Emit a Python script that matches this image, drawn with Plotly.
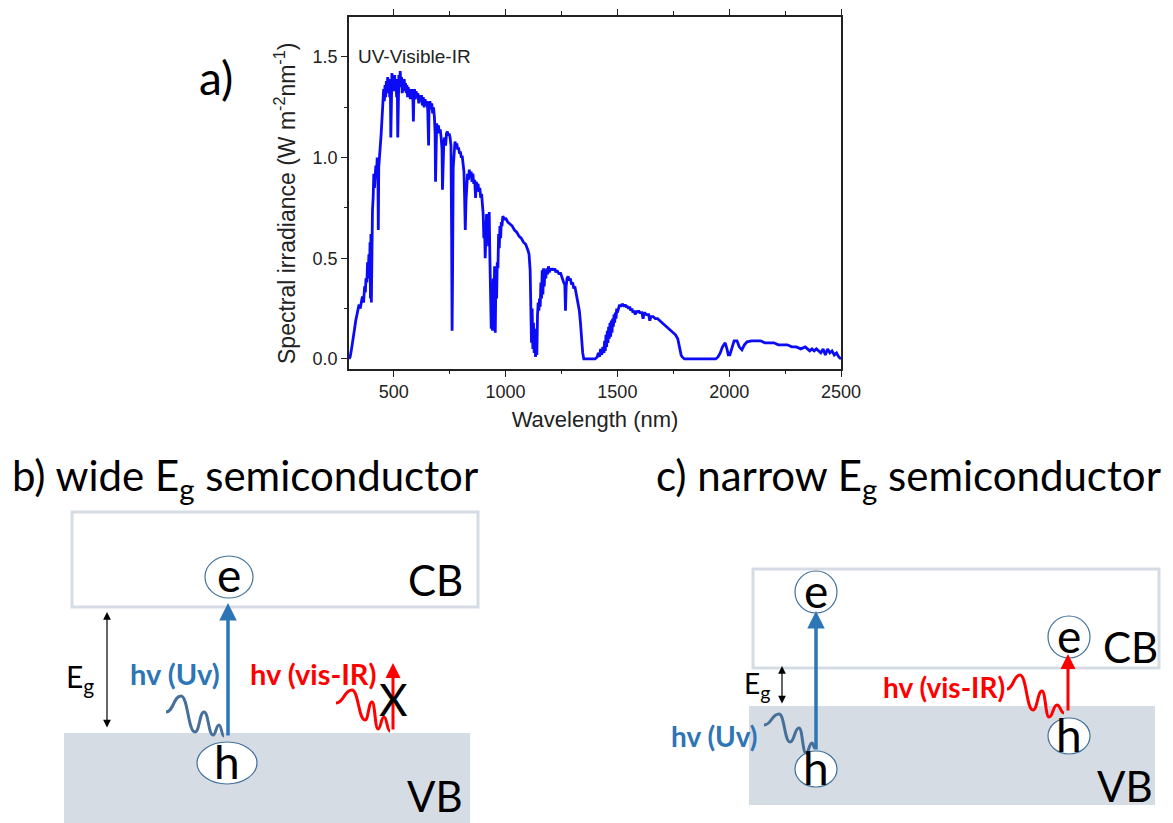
import plotly.graph_objects as go

W, H = 1173, 823

# ---------------- data ----------------
wavelength_nm = [
    300, 305, 310, 315, 320, 325, 330, 335, 340, 345, 350, 355, 360, 365, 370, 373, 376, 380, 383, 386,
    389, 392, 394, 396, 398, 400, 402, 405, 408, 411, 414, 417, 420, 423, 426, 429, 431, 433, 436, 440,
    444, 448, 452, 455, 458, 461, 464, 467, 470, 473, 476, 479, 482, 485, 487, 489, 492, 495, 498, 501,
    504, 507, 510, 513, 516, 518, 520, 523, 526, 529, 532, 535, 538, 541, 544, 547, 550, 553, 556, 559,
    562, 565, 568, 571, 574, 577, 580, 583, 586, 588, 590, 593, 596, 600, 604, 608, 612, 616, 620, 624,
    628, 632, 636, 640, 644, 648, 652, 656, 658, 662, 666, 670, 674, 678, 682, 685, 687, 689, 692, 696,
    700, 704, 708, 712, 716, 718, 720, 724, 728, 732, 736, 740, 744, 748, 752, 756, 759, 761, 763, 766,
    770, 774, 778, 782, 786, 790, 794, 798, 802, 806, 810, 814, 817, 820, 823, 826, 830, 834, 838, 842,
    846, 850, 854, 858, 862, 866, 869, 873, 877, 881, 885, 889, 893, 897, 900, 903, 906, 909, 912, 915,
    918, 921, 924, 927, 930, 933, 936, 939, 942, 945, 948, 951, 954, 957, 960, 963, 966, 969, 972, 975,
    978, 981, 984, 988, 992, 996, 1000, 1010, 1020, 1030, 1040, 1050, 1060, 1070, 1080, 1090, 1100, 1105, 1110, 1113,
    1116, 1119, 1122, 1125, 1128, 1131, 1134, 1137, 1140, 1143, 1146, 1149, 1152, 1155, 1158, 1161, 1164, 1167, 1170, 1173,
    1176, 1180, 1184, 1188, 1192, 1196, 1200, 1205, 1210, 1215, 1220, 1225, 1230, 1235, 1240, 1245, 1250, 1255, 1260, 1265,
    1268, 1271, 1275, 1280, 1285, 1290, 1295, 1300, 1305, 1310, 1315, 1320, 1325, 1330, 1335, 1340, 1345, 1350, 1360, 1380,
    1400, 1410, 1415, 1420, 1425, 1430, 1435, 1440, 1443, 1446, 1449, 1452, 1455, 1458, 1461, 1464, 1467, 1470, 1473, 1476,
    1479, 1482, 1485, 1488, 1491, 1494, 1497, 1500, 1505, 1510, 1515, 1520, 1525, 1530, 1535, 1540, 1545, 1550, 1555, 1560,
    1565, 1570, 1575, 1580, 1585, 1590, 1595, 1600, 1610, 1615, 1620, 1630, 1640, 1645, 1650, 1660, 1670, 1680, 1690, 1700,
    1710, 1720, 1730, 1740, 1750, 1760, 1770, 1775, 1780, 1785, 1790, 1800, 1850, 1900, 1940, 1950, 1960, 1970, 1982, 1990,
    1996, 2003, 2012, 2022, 2035, 2045, 2057, 2068, 2080, 2100, 2120, 2140, 2160, 2180, 2200, 2220, 2240, 2260, 2280, 2300,
    2320, 2340, 2350, 2360, 2370, 2380, 2390, 2400, 2410, 2420, 2430, 2440, 2450, 2460, 2470, 2480, 2490, 2500,
]
irradiance = [
    0.00, 0.01, 0.04, 0.07, 0.11, 0.15, 0.19, 0.22, 0.24, 0.27, 0.25, 0.29, 0.31, 0.28, 0.36, 0.33, 0.40, 0.38, 0.48, 0.42,
    0.52, 0.40, 0.58, 0.30, 0.62, 0.28, 0.55, 0.74, 0.80, 0.92, 0.85, 0.93, 0.96, 0.90, 1.00, 0.97, 0.64, 0.95, 1.02, 1.06,
    1.12, 1.20, 1.30, 1.34, 1.28, 1.36, 1.30, 1.38, 1.32, 1.40, 1.34, 1.39, 1.30, 1.36, 1.10, 1.34, 1.42, 1.36, 1.40, 1.33,
    1.41, 1.35, 1.39, 1.30, 1.37, 1.10, 1.36, 1.41, 1.35, 1.43, 1.36, 1.40, 1.32, 1.38, 1.34, 1.39, 1.33, 1.37, 1.32, 1.36,
    1.30, 1.35, 1.31, 1.34, 1.29, 1.33, 1.30, 1.34, 1.28, 1.18, 1.30, 1.34, 1.29, 1.33, 1.30, 1.32, 1.27, 1.31, 1.28, 1.31,
    1.26, 1.30, 1.25, 1.29, 1.26, 1.28, 1.24, 1.06, 1.26, 1.28, 1.24, 1.27, 1.22, 1.25, 1.20, 1.12, 0.88, 1.05, 1.17, 1.13,
    1.16, 1.12, 1.14, 1.10, 1.04, 0.84, 1.00, 1.08, 1.10, 1.06, 1.12, 1.13, 1.11, 1.12, 1.10, 1.06, 0.60, 0.14, 0.40, 0.95,
    1.05, 1.08, 1.06, 1.07, 1.04, 1.05, 1.02, 1.03, 1.00, 1.01, 0.97, 0.93, 0.80, 0.64, 0.78, 0.88, 0.92, 0.89, 0.94, 0.90,
    0.93, 0.88, 0.92, 0.87, 0.89, 0.80, 0.88, 0.86, 0.87, 0.83, 0.85, 0.80, 0.82, 0.76, 0.72, 0.60, 0.68, 0.50, 0.64, 0.72,
    0.62, 0.70, 0.56, 0.73, 0.50, 0.30, 0.15, 0.35, 0.14, 0.40, 0.22, 0.46, 0.13, 0.42, 0.30, 0.48, 0.45, 0.62, 0.55, 0.66,
    0.60, 0.68, 0.66, 0.71, 0.70, 0.69, 0.70, 0.68, 0.67, 0.66, 0.64, 0.63, 0.61, 0.60, 0.58, 0.57, 0.54, 0.52, 0.44, 0.30,
    0.08, 0.25, 0.05, 0.18, 0.03, 0.15, 0.01, 0.10, 0.02, 0.22, 0.28, 0.24, 0.30, 0.26, 0.38, 0.30, 0.44, 0.32, 0.45, 0.36,
    0.44, 0.40, 0.45, 0.42, 0.46, 0.43, 0.45, 0.44, 0.45, 0.44, 0.45, 0.43, 0.44, 0.43, 0.42, 0.43, 0.41, 0.40, 0.38, 0.37,
    0.24, 0.36, 0.40, 0.41, 0.39, 0.40, 0.37, 0.38, 0.35, 0.36, 0.33, 0.31, 0.27, 0.24, 0.18, 0.10, 0.03, 0.00, 0.00, 0.00,
    0.00, 0.01, 0.03, 0.01, 0.05, 0.02, 0.06, 0.03, 0.09, 0.04, 0.12, 0.06, 0.14, 0.08, 0.16, 0.10, 0.18, 0.11, 0.19, 0.13,
    0.20, 0.16, 0.22, 0.18, 0.23, 0.20, 0.25, 0.23, 0.26, 0.27, 0.26, 0.27, 0.27, 0.26, 0.27, 0.26, 0.26, 0.25, 0.26, 0.24,
    0.25, 0.23, 0.24, 0.22, 0.24, 0.23, 0.24, 0.23, 0.23, 0.20, 0.23, 0.22, 0.22, 0.19, 0.21, 0.21, 0.20, 0.20, 0.19, 0.18,
    0.17, 0.16, 0.15, 0.14, 0.13, 0.12, 0.10, 0.07, 0.04, 0.02, 0.01, 0.00, 0.00, 0.00, 0.00, 0.01, 0.03, 0.06, 0.08, 0.05,
    0.02, 0.02, 0.06, 0.09, 0.09, 0.06, 0.045, 0.07, 0.085, 0.09, 0.09, 0.09, 0.08, 0.08, 0.08, 0.07, 0.07, 0.07, 0.06, 0.06,
    0.05, 0.06, 0.05, 0.04, 0.05, 0.04, 0.05, 0.04, 0.03, 0.05, 0.02, 0.05, 0.03, 0.04, 0.02, 0.03, 0.01, 0.00,
]

x_tick_values = [500, 1000, 1500, 2000, 2500]
y_tick_values = [0.0, 0.5, 1.0, 1.5]
x_range = [300, 2500]
y_range = [-0.05, 1.7]

# ---------------- helpers: pixel -> paper ----------------
def px(x):
    return x / W

def py(y):
    return 1 - y / H

ARIAL = "Liberation Sans, Arial, sans-serif"
CALI = "Lato, 'Open Sans', sans-serif"
BAND = "#D6DCE4"
CIRC = "#41719C"
BLUE = "#2E75B6"
SQBLUE = "#46709A"
RED = "#FF0000"

fig = go.Figure()
fig.add_trace(go.Scatter(
    x=wavelength_nm, y=irradiance, mode="lines",
    line=dict(color="#0b0bf5", width=2.8),
    showlegend=False, hoverinfo="skip",
))

fig.update_layout(
    width=W, height=H,
    margin=dict(l=0, r=0, t=0, b=0),
    paper_bgcolor="white", plot_bgcolor="white",
    showlegend=False,
    xaxis=dict(
        domain=[px(349), px(841)], range=x_range, tickvals=x_tick_values,
        ticks="outside", ticklen=6, tickwidth=1.2, tickcolor="#222",
        minor=dict(dtick=250, ticks="outside", ticklen=3.5, tickwidth=1.2, tickcolor="#222"),
        showline=True, linecolor="#222", linewidth=1.5, mirror="ticks",
        showgrid=False, zeroline=False,
        tickfont=dict(family=ARIAL, size=18, color="#222"),
        title=dict(text="Wavelength (nm)", font=dict(family=ARIAL, size=22, color="#222"), standoff=10),
        automargin=False,
    ),
    yaxis=dict(
        domain=[py(369), py(16.7)], range=y_range, tickvals=y_tick_values, tickformat=".1f",
        ticks="outside", ticklen=6, tickwidth=1.2, tickcolor="#222",
        minor=dict(dtick=0.25, ticks="outside", ticklen=3.5, tickwidth=1.2, tickcolor="#222"),
        showline=True, linecolor="#222", linewidth=1.5, mirror=True,
        showgrid=False, zeroline=False,
        tickfont=dict(family=ARIAL, size=18, color="#222"),
        automargin=False,
    ),
)

shapes = []
ann = []

def rect(x0, y0, x1, y1, fill=None, line=None, lw=0):
    d = dict(type="rect", xref="paper", yref="paper",
             x0=px(x0), x1=px(x1), y0=py(y1), y1=py(y0), layer="above")
    d["fillcolor"] = fill if fill else "rgba(0,0,0,0)"
    d["line"] = dict(color=line if line else "rgba(0,0,0,0)", width=lw)
    shapes.append(d)

def ellipse(cx, cy, rx, ry):
    shapes.append(dict(type="circle", xref="paper", yref="paper",
                       x0=px(cx - rx), x1=px(cx + rx), y0=py(cy + ry), y1=py(cy - ry),
                       fillcolor="white", line=dict(color=CIRC, width=1.2), layer="above"))

def wave(pts, color, width=3):
    s = f"M {px(pts[0][0])},{py(pts[0][1])}"
    for (x0, y0), (x1, y1) in zip(pts[:-1], pts[1:]):
        dx = (x1 - x0) / 2
        s += f" C {px(x0 + dx)},{py(y0)} {px(x1 - dx)},{py(y1)} {px(x1)},{py(y1)}"
    shapes.append(dict(type="path", xref="paper", yref="paper", path=s,
                       line=dict(color=color, width=width), layer="above"))

def text(x, y, t, size, color="black", family=CALI, xanchor="center", angle=0):
    ann.append(dict(x=px(x), y=py(y), xref="paper", yref="paper", text=t, showarrow=False,
                    xanchor=xanchor, yanchor="middle", textangle=angle,
                    font=dict(family=family, size=size, color=color)))

def arrow(xh, yh, xt, yt, color, width, head=2, size=1.0, both=False):
    ann.append(dict(x=px(xh), y=py(yh), xref="paper", yref="paper", text="",
                    showarrow=True, ax=xt - xh, ay=yt - yh, axref="pixel", ayref="pixel",
                    arrowcolor=color, arrowwidth=width, arrowhead=head, arrowsize=size,
                    startarrowhead=head, startarrowsize=size,
                    arrowside="end+start" if both else "end", standoff=0, startstandoff=0))

# ---------------- panel a labels ----------------
text(216, 78, "a)", 46)
text(356, 56, "UV-Visible-IR", 19, color="#222", family=ARIAL, xanchor="left")
text(285, 204, "Spectral irradiance (W m<sup>-2</sup>nm<sup>-1</sup>)", 23, color="#222", family=ARIAL, angle=-90)

# ---------------- panel b ----------------
text(10, 478, "b) wide E<sub>g</sub> semiconductor", 42, xanchor="left")
rect(64, 733, 470, 823, fill=BAND)
rect(72, 512, 478, 607, line=BAND, lw=3)
text(435, 580, "CB", 42)
text(435, 796, "VB", 42)
ellipse(229, 577, 24, 21)
ellipse(227, 763, 30, 21)
text(229, 574, "e", 46)
text(227, 761, "h", 46)
arrow(228, 603, 228, 737, BLUE, 3.5, head=2, size=1.0)
arrow(107, 612, 107, 729, "black", 1.2, head=2, size=1.3, both=True)
text(80, 678, "E<sub>g</sub>", 30)
text(175, 673, "<b>hv (Uv)</b>", 29, color=BLUE)
wave([(166, 712), (181, 696), (195, 732), (204, 712), (213, 735), (219, 725), (224, 736)], SQBLUE)
text(313, 673, "<b>hv (vis-IR)</b>", 29, color=RED)
wave([(336, 703), (352, 690), (365, 720), (372, 702), (378, 729), (384, 717), (390, 731)], RED)
arrow(393, 663, 393, 731, RED, 3, head=2, size=1.0)
text(393, 699, "X", 44)

# ---------------- panel c ----------------
text(654, 478, "c) narrow E<sub>g</sub> semiconductor", 42, xanchor="left")
rect(749, 706, 1155, 805, fill=BAND)
rect(753, 569, 1159, 668, line=BAND, lw=3)
text(1130, 647, "CB", 42)
text(1125, 786, "VB", 42)
ellipse(816, 592, 21, 21)
ellipse(816, 769, 21, 18)
ellipse(1069, 637, 21, 21)
ellipse(1069, 736, 21, 18)
text(816, 590, "e", 46)
text(816, 767, "h", 46)
text(1069, 635, "e", 46)
text(1069, 734, "h", 46)
arrow(816, 611, 816, 751, BLUE, 3.5, head=2, size=1.0)
arrow(1068, 654, 1068, 712, RED, 3, head=2, size=1.0)
arrow(782, 666, 782, 705, "black", 1.2, head=2, size=1.3, both=True)
text(757, 685, "E<sub>g</sub>", 28)
text(714, 736, "<b>hv (Uv)</b>", 28, color=BLUE)
wave([(764, 725), (779, 714), (790, 742), (799, 728), (806, 753), (812, 743), (815, 748)], SQBLUE)
text(944, 687, "<b>hv (vis-IR)</b>", 28, color=RED)
wave([(1007, 689), (1020, 675), (1033, 710), (1042, 691), (1049, 717), (1057, 705), (1064, 713)], RED)

fig.update_layout(shapes=shapes, annotations=ann)
fig.write_html("out.html")
